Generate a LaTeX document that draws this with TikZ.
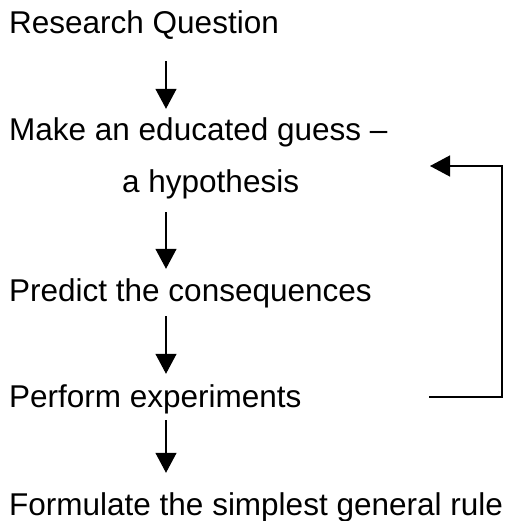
\documentclass[tikz,border=0pt]{standalone}
\usepackage{fontspec}
\setmainfont{Liberation Sans}
\usetikzlibrary{arrows.meta}
\begin{document}
\begin{tikzpicture}[x=1pt,y=-1pt,
  lbl/.style={anchor=base west,inner sep=0pt,text height=16pt,text depth=7pt,
    font=\fontsize{31.5}{36}\selectfont},
  arr/.style={line width=1.3pt,-{Triangle[width=21pt,length=20pt]}}]
\useasboundingbox (0,0) rectangle (509,521);
\node[lbl] (q) at (9,34) {Research Question};
\node[lbl] (guess) at (9,141) {Make an educated guess –};
\node[lbl] (hyp) at (122,193) {a hypothesis};
\node[lbl] (pred) at (9,301) {Predict the consequences};
\node[lbl] (perf) at (9,407) {Perform experiments};
\node[lbl] (form) at (9,515) {Formulate the simplest general rule};
\coordinate (ax) at (166,0);
\coordinate (fbs) at (429,397);
\coordinate (fbe) at (430,166);
\draw[arr,shorten <=20pt,shorten >=16pt] (q.south -| ax) -- (guess.north -| ax);
\draw[arr,shorten <=12pt,shorten >=16pt] (hyp.south -| ax) -- (pred.north -| ax);
\draw[arr,shorten <=8pt,shorten >=17pt] (pred.south -| ax) -- (perf.north -| ax);
\draw[arr,shorten <=6pt,shorten >=26pt] (perf.south -| ax) -- (form.north -| ax);
\draw[arr] (fbs) -- (502,397) -- (502,166) -- (fbe);
\end{tikzpicture}
\end{document}
